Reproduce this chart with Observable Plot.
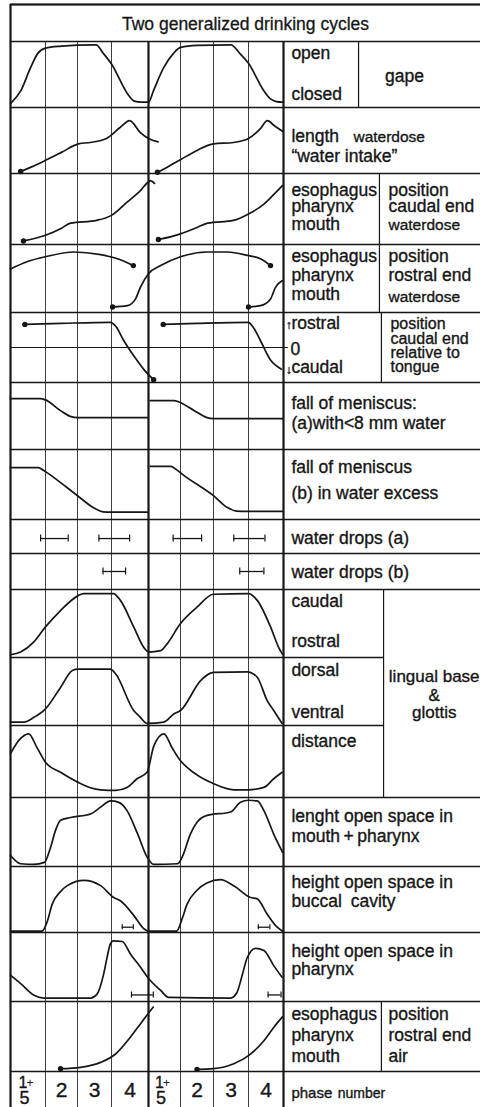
<!DOCTYPE html>
<html>
<head>
<meta charset="utf-8">
<script src="https://cdn.jsdelivr.net/npm/d3@7/dist/d3.min.js"></script>
<script src="https://cdn.jsdelivr.net/npm/@observablehq/plot@0.6/dist/plot.umd.min.js"></script>
<style>
  html, body { margin: 0; padding: 0; background: #fff; }
  #chart svg { display: block; }
  g[aria-label="spaced-1"] text { letter-spacing: 1.3px; }
  g[aria-label="spaced-3"] text { letter-spacing: 3px; }
</style>
</head>
<body>
<div id="chart"></div>
<script>
// ---- Data: each trace is a list of [phase time, relative level 0..1] ----
// Time runs over two drinking cycles: 0..4 is cycle one, 4..8 cycle two.

const gape = [[0,0.06],[0.3,0.26],[0.57,0.6],[0.78,0.82],[1,0.9],[1.5,0.93],[2,0.945],[2.55,0.95],[2.76,0.82],[3,0.66],[3.43,0.21],[3.6,0.1],[3.8,0.08],[4,0.08],
  [4.16,0.26],[4.47,0.6],[4.78,0.82],[5,0.91],[5.5,0.94],[6.5,0.95],[6.75,0.82],[7,0.67],[7.43,0.26],[7.63,0.13],[7.8,0.09],[7.97,0.08]];

const waterIntake1 = [[0.29,0.03],[0.6,0.1],[1,0.2],[1.5,0.32],[2.03,0.45],[2.38,0.47],[2.85,0.53],[3.24,0.7],[3.49,0.8],[3.78,0.62],[4,0.53],[4.3,0.48]];
const waterIntake2 = [[4.28,0.02],[4.6,0.1],[5,0.21],[5.5,0.35],[6,0.45],[6.57,0.47],[7,0.53],[7.34,0.68],[7.54,0.8],[7.75,0.72],[7.97,0.64]];

const caudalEnd1 = [[0.37,0.05],[1,0.13],[1.5,0.23],[1.78,0.3],[2.56,0.34],[3,0.41],[3.43,0.6],[3.78,0.76],[3.97,0.87],[4.06,0.9],[4.19,0.86]];
const caudalEnd2 = [[4.31,0.07],[5,0.15],[5.5,0.24],[5.82,0.3],[6.57,0.34],[7,0.43],[7.44,0.57],[7.83,0.76],[7.97,0.83]];

const rostralEnd1 = [[0,0.64],[0.49,0.75],[1,0.82],[1.88,0.89],[2.68,0.85],[3.16,0.79],[3.59,0.69]];
const rostralEnd2 = [[3.03,0.08],[3.43,0.1],[3.65,0.2],[3.78,0.37],[4,0.57],[4.38,0.69],[5,0.82],[5.82,0.89],[6.4,0.89],[6.97,0.84],[7.34,0.79],[7.63,0.69]];
const rostralEnd3 = [[7,0.08],[7.34,0.1],[7.63,0.2],[7.77,0.37],[7.97,0.47]];

const relTongue1 = [[0.41,0.83],[1.5,0.845],[2.97,0.86],[3.12,0.8],[3.33,0.6],[3.63,0.36],[3.9,0.17],[4.16,0.04]];
const relTongue2 = [[4.46,0.83],[5.5,0.845],[7,0.86],[7.12,0.8],[7.34,0.6],[7.63,0.32],[7.94,0.19]];

const meniscusA1 = [[0,0.76],[0.85,0.76],[1,0.74],[1.47,0.58],[1.8,0.49],[2,0.475],[3.97,0.475]];
const meniscusA2 = [[4.05,0.73],[4.8,0.73],[4.95,0.71],[5.42,0.58],[5.78,0.48],[6,0.46],[7.97,0.46]];

const meniscusB1 = [[0,0.74],[0.8,0.74],[0.95,0.7],[1.2,0.62],[2,0.34],[2.5,0.16],[2.75,0.11],[3,0.105],[3.97,0.105]];
const meniscusB2 = [[4.05,0.76],[4.7,0.76],[4.85,0.72],[5.1,0.63],[6,0.34],[6.4,0.17],[6.65,0.12],[7,0.115],[7.97,0.115]];

const dropsA = [[0.86,1.71],[2.63,3.49],[4.77,5.64],[6.58,7.47]];
const dropsB = [[2.75,3.38],[6.75,7.44]];

const lingualCaudalRostral = [[0,0.04],[0.29,0.08],[0.66,0.225],[1,0.45],[1.47,0.69],[2.02,0.91],[2.18,0.94],[3.05,0.94],[3.24,0.84],[3.6,0.45],[3.87,0.15],[4,0.08],
  [4.38,0.1],[4.58,0.2],[5,0.5],[5.5,0.74],[6,0.93],[7,0.94],[7.25,0.84],[7.63,0.45],[7.86,0.15],[7.97,0.05]];

const lingualDorsalVentral = [[0,0.05],[0.38,0.05],[0.67,0.12],[1,0.245],[1.47,0.56],[1.84,0.81],[2.02,0.83],[2.97,0.83],[3.11,0.76],[3.6,0.22],[3.78,0.12],[3.96,0.03],
  [4.48,0.05],[4.79,0.17],[5,0.22],[5.61,0.66],[5.91,0.77],[6.01,0.78],[6.96,0.79],[7.25,0.71],[7.53,0.37],[7.72,0.22],[7.96,0.03]];

const lingualDistance = [[0,0.61],[0.25,0.8],[0.52,0.885],[0.75,0.7],[1,0.49],[1.47,0.35],[2.02,0.21],[2.38,0.135],[2.68,0.107],[3.11,0.1],[3.42,0.14],[3.69,0.26],[3.96,0.35],
  [4.17,0.72],[4.48,0.885],[4.75,0.68],[5,0.51],[5.2,0.42],[6.01,0.19],[6.58,0.107],[7,0.107],[7.44,0.14],[7.72,0.26],[7.96,0.35]];

const lengthOpenSpace = [[0,0.16],[0.29,0.04],[0.66,0.03],[0.97,0.06],[1.16,0.28],[1.31,0.52],[1.47,0.67],[1.78,0.71],[2.38,0.76],[2.68,0.86],[2.97,0.95],[3.2,0.93],[3.42,0.81],[3.7,0.48],[3.97,0.13],[4.16,0.03],
  [4.91,0.04],[5.05,0.135],[5.3,0.47],[5.5,0.64],[5.81,0.74],[6.49,0.79],[6.77,0.93],[7,0.96],[7.25,0.95],[7.44,0.81],[7.72,0.47],[7.97,0.21]];

const heightBuccal = [[0,0.02],[0.9,0.02],[1.05,0.16],[1.21,0.43],[1.47,0.62],[1.68,0.71],[2.19,0.79],[2.68,0.71],[3.06,0.53],[3.24,0.48],[3.6,0.26],[3.87,0.06],[4,0.02],
  [4.88,0.02],[5.05,0.21],[5.2,0.43],[5.5,0.64],[5.8,0.75],[6.2,0.8],[6.6,0.7],[7.06,0.53],[7.25,0.51],[7.53,0.28],[7.82,0.08],[7.97,0.02]];
const buccalBars = [[3.29,3.59],[7.28,7.61]];

const heightPharynx = [[0,0.38],[0.29,0.26],[0.67,0.09],[0.95,0.05],[2.38,0.05],[2.58,0.11],[2.77,0.4],[2.87,0.64],[2.97,0.84],[3.05,0.88],[3.29,0.87],[3.51,0.69],[3.78,0.5],[4.01,0.33],[4.38,0.16],[4.63,0.06],
  [6.49,0.05],[6.67,0.13],[6.82,0.38],[6.96,0.63],[7.2,0.77],[7.44,0.74],[7.72,0.52],[7.96,0.35]];
const pharynxBars = [[3.54,4.15],[7.56,7.93]];

const airEnd1 = [[1.47,0.04],[2.09,0.06],[2.68,0.13],[3.11,0.25],[3.51,0.49],[3.78,0.68],[4.01,0.84],[4.15,0.92]];
const airEnd2 = [[5.5,0.03],[6,0.04],[6.58,0.11],[7.01,0.23],[7.44,0.44],[7.72,0.63],[7.97,0.78]];

const phaseNumbers = ["2", "3", "4"];
const title = "Two generalized drinking cycles";

// ---- Layout ----
// x: phase boundaries of both cycles, then the right edge of the label column (9).
const gridX = [10, 45, 77, 111, 148, 180, 213, 248, 283, 480];
// y: one unit per table row, row 0 being the title.
const rowEdges = [4, 41, 107, 173, 244, 312, 382, 449, 519, 553, 589, 657, 725, 797, 866, 932, 1001, 1071, 1107];
const W = 480, H = 1107;
const phaseToPx = d3.scaleLinear(d3.range(gridX.length), gridX);
const rowToPx = d3.scaleLinear(d3.range(rowEdges.length), rowEdges);

const INK = "#161616";
const FONT = "'Liberation Sans', Arial, Helvetica, sans-serif";

// positions inside the label column (x units 8..9)
const colA = 8.04;
const gapeSplit = 8.381, gapeMid = 8.614;
const posSplit = 8.487, posText = 8.533;
const tongueSplit = 8.497, tongueText = 8.543;
const lingualSplit = 8.508, lingualMid = 8.765;
const airSplit = 8.497;
const intakeSecond = 8.355, numberText = 8.275;

const rowH = r => rowEdges[r + 1] - rowEdges[r];
const lev = row => d => row + 1 - d[1];

const traces = [
  [1, gape],
  [2, waterIntake1], [2, waterIntake2],
  [3, caudalEnd1], [3, caudalEnd2],
  [4, rostralEnd1], [4, rostralEnd2], [4, rostralEnd3],
  [5, relTongue1], [5, relTongue2],
  [6, meniscusA1], [6, meniscusA2],
  [7, meniscusB1], [7, meniscusB2],
  [10, lingualCaudalRostral],
  [11, lingualDorsalVentral],
  [12, lingualDistance],
  [13, lengthOpenSpace],
  [14, heightBuccal],
  [15, heightPharynx],
  [16, airEnd1], [16, airEnd2]
];

const first = a => a[0], last = a => a[a.length - 1];
const dots = [
  [2, first(waterIntake1)], [2, first(waterIntake2)],
  [3, first(caudalEnd1)], [3, first(caudalEnd2)],
  [4, last(rostralEnd1)], [4, first(rostralEnd2)], [4, last(rostralEnd2)], [4, first(rostralEnd3)],
  [5, first(relTongue1)], [5, last(relTongue1)], [5, first(relTongue2)],
  [16, first(airEnd1)], [16, first(airEnd2)]
].map(([row, p]) => ({x: p[0], y: row + 1 - p[1]}));

// interval bars: row, level inside the row, half cap height in px
const barGroups = [
  {row: 8, level: 0.44, cap: 3.5, spans: dropsA},
  {row: 9, level: 0.5, cap: 3.5, spans: dropsB},
  {row: 14, level: 0.08, cap: 2.5, spans: buccalBars},
  {row: 15, level: 0.095, cap: 3, spans: pharynxBars}
];
const bars = barGroups.flatMap(g => g.spans.map(s => ({x1: s[0], x2: s[1], y: g.row + 1 - g.level, c: g.cap / rowH(g.row)})));
const caps = bars.flatMap(b => [{x: b.x1, y: b.y, c: b.c}, {x: b.x2, y: b.y, c: b.c}]);

// labels: row, baseline position in the row, x, text, options
const L = [];
const lab = (row, f, x, text, o = {}) => L.push({row, f, x, text, size: 17.5, anchor: "start", spacing: 0, ...o});
const small = {size: 15.5, spacing: 1};
const tight = {size: 16};

lab(1, 0.26, colA, "open"); lab(1, 0.89, colA, "closed"); lab(1, 0.62, gapeMid, "gape", {anchor: "middle"});
lab(2, 0.53, colA, "length"); lab(2, 0.53, intakeSecond, "waterdose", small); lab(2, 0.83, colA, "\u201Cwater intake\u201D");
lab(3, 0.31, colA, "esophagus"); lab(3, 0.545, colA, "pharynx"); lab(3, 0.79, colA, "mouth");
lab(3, 0.31, posText, "position"); lab(3, 0.545, posText, "caudal end"); lab(3, 0.80, posText, "waterdose", small);
lab(4, 0.26, colA, "esophagus"); lab(4, 0.53, colA, "pharynx"); lab(4, 0.81, colA, "mouth");
lab(4, 0.26, posText, "position"); lab(4, 0.53, posText, "rostral end"); lab(4, 0.85, posText, "waterdose", small);
lab(5, 0.23, 8.012, "\u2191", {size: 12}); lab(5, 0.23, colA, "rostral");
lab(5, 0.60, 8.036, "0");
lab(5, 0.88, 8.012, "\u2193", {size: 12}); lab(5, 0.87, colA, "caudal");
lab(5, 0.23, tongueText, "position", tight); lab(5, 0.455, tongueText, "caudal end", tight); lab(5, 0.655, tongueText, "relative to", tight); lab(5, 0.845, tongueText, "tongue", tight);
lab(6, 0.39, colA, "fall of meniscus:"); lab(6, 0.70, colA, "(a)with<8 mm water");
lab(7, 0.33, colA, "fall of meniscus"); lab(7, 0.71, colA, "(b) in water excess");
lab(8, 0.735, colA, "water drops (a)");
lab(9, 0.69, colA, "water drops (b)");
lab(10, 0.26, colA, "caudal"); lab(10, 0.85, colA, "rostral");
lab(11, 0.275, colA, "dorsal"); lab(11, 0.885, colA, "ventral");
lab(11, 0.36, lingualMid, "lingual base", {anchor: "middle", size: 17}); lab(11, 0.64, lingualMid, "&", {anchor: "middle", size: 17}); lab(11, 0.885, lingualMid, "glottis", {anchor: "middle", size: 17});
lab(12, 0.30, colA, "distance");
lab(13, 0.35, colA, "lenght open space in"); lab(13, 0.65, colA, "mouth\u2009+\u2009pharynx");
lab(14, 0.32, colA, "height open space in"); lab(14, 0.61, colA, "buccal\u2002cavity");
lab(15, 0.355, colA, "height open space in"); lab(15, 0.61, colA, "pharynx");
lab(16, 0.27, colA, "esophagus"); lab(16, 0.56, colA, "pharynx"); lab(16, 0.86, colA, "mouth");
lab(16, 0.27, posText, "position"); lab(16, 0.56, posText, "rostral end"); lab(16, 0.86, posText, "air");
lab(17, 0.74, colA, "phase", {size: 15}); lab(17, 0.74, numberText, "number", {size: 14, spacing: 3});

// phase numbers in the bottom row
const phaseCells = [1.5, 2.5, 3.5, 5.5, 6.5, 7.5].map((x, i) => ({x, text: phaseNumbers[i % 3]}));
const firstPhase = [0.5, 4.5];

const textMarks = d3.groups(L, d => `${d.size}|${d.anchor}|${d.spacing}`).map(([, group]) =>
  Plot.text(group, {
    x: "x", y: d => d.row + d.f, text: "text",
    textAnchor: group[0].anchor, lineAnchor: "bottom",
    fontSize: group[0].size, fill: INK, fontFamily: FONT,
    stroke: INK, strokeWidth: 0.35,
    ariaLabel: group[0].spacing ? `spaced-${Math.round(group[0].spacing)}` : "label"
  })
);

const chart = Plot.plot({
  width: W,
  height: H,
  marginLeft: 10, marginRight: 0, marginTop: 0, marginBottom: 0,
  style: {background: "#fff", fontFamily: FONT, color: INK},
  // phase units and row units are converted to pixels before scaling
  x: {transform: phaseToPx, domain: [0, W], range: [0, W], axis: null},
  y: {transform: rowToPx, domain: [0, H], range: [0, H], axis: null},
  marks: [
    // phase grid
    Plot.ruleX([1, 2, 3, 5, 6, 7], {y1: 1, y2: 18, stroke: "#2a2a2a", strokeWidth: 0.9}),
    // row borders
    Plot.ruleY(d3.range(18).filter(r => r !== 11 && r !== 12), {x1: 0, x2: 9, stroke: INK, strokeWidth: 1.4}),
    Plot.ruleY([11, 12], {x1: 0, x2: lingualSplit, stroke: INK, strokeWidth: 1.4}),
    Plot.ruleY([0], {x1: 0, x2: 9, stroke: INK, strokeWidth: 1.8}),
    // zero level of the tongue-relative trace, with its small tick
    Plot.ruleY([5.5], {x1: 0, x2: 8.025, stroke: INK, strokeWidth: 1}),
    // label column splits
    Plot.ruleX([{x: gapeSplit, a: 1, b: 2}, {x: posSplit, a: 3, b: 5}, {x: tongueSplit, a: 5, b: 6},
                {x: lingualSplit, a: 10, b: 13}, {x: airSplit, a: 16, b: 17}],
      {x: "x", y1: "a", y2: "b", stroke: INK, strokeWidth: 1.2}),
    // cycle dividers and left border
    Plot.ruleX([4, 8], {y1: 1, y2: 18, stroke: INK, strokeWidth: 2.2}),
    Plot.ruleX([0], {y1: 0, y2: 18, stroke: INK, strokeWidth: 2.2}),
    // traces
    ...traces.map(([row, data]) => Plot.line(data, {x: d => d[0], y: lev(row), curve: "monotone-x", stroke: INK, strokeWidth: 1.7})),
    Plot.dot(dots, {x: "x", y: "y", r: 2.7, fill: INK}),
    // interval bars
    Plot.ruleY(bars, {x1: "x1", x2: "x2", y: "y", stroke: INK, strokeWidth: 1.3}),
    Plot.ruleX(caps, {x: "x", y1: d => d.y - d.c, y2: d => d.y + d.c, stroke: INK, strokeWidth: 1.2}),
    // title
    Plot.text([title], {frameAnchor: "middle", y: () => 0.70, lineAnchor: "bottom", fontSize: 17.5, fill: INK, stroke: INK, strokeWidth: 0.3, fontFamily: FONT}),
    // labels
    ...textMarks,
    // phase numbers
    Plot.text(phaseCells, {x: "x", y: () => 17.72, text: "text", lineAnchor: "bottom", fontSize: 21, fill: INK, stroke: INK, strokeWidth: 0.35, fontFamily: FONT}),
    Plot.text(firstPhase, {x: d => d, y: () => 17.47, text: () => "1", dx: -5, lineAnchor: "bottom", fontSize: 16, fill: INK, stroke: INK, strokeWidth: 0.35, fontFamily: FONT}),
    Plot.text(firstPhase, {x: d => d, y: () => 17.42, text: () => "+", dx: 2, lineAnchor: "bottom", fontSize: 12, fill: INK, fontFamily: FONT}),
    Plot.text(firstPhase, {x: d => d, y: () => 17.9, text: () => "5", dx: -3.5, lineAnchor: "bottom", fontSize: 18, fill: INK, stroke: INK, strokeWidth: 0.35, fontFamily: FONT})
  ]
});

document.getElementById("chart").appendChild(chart);
</script>
</body>
</html>
